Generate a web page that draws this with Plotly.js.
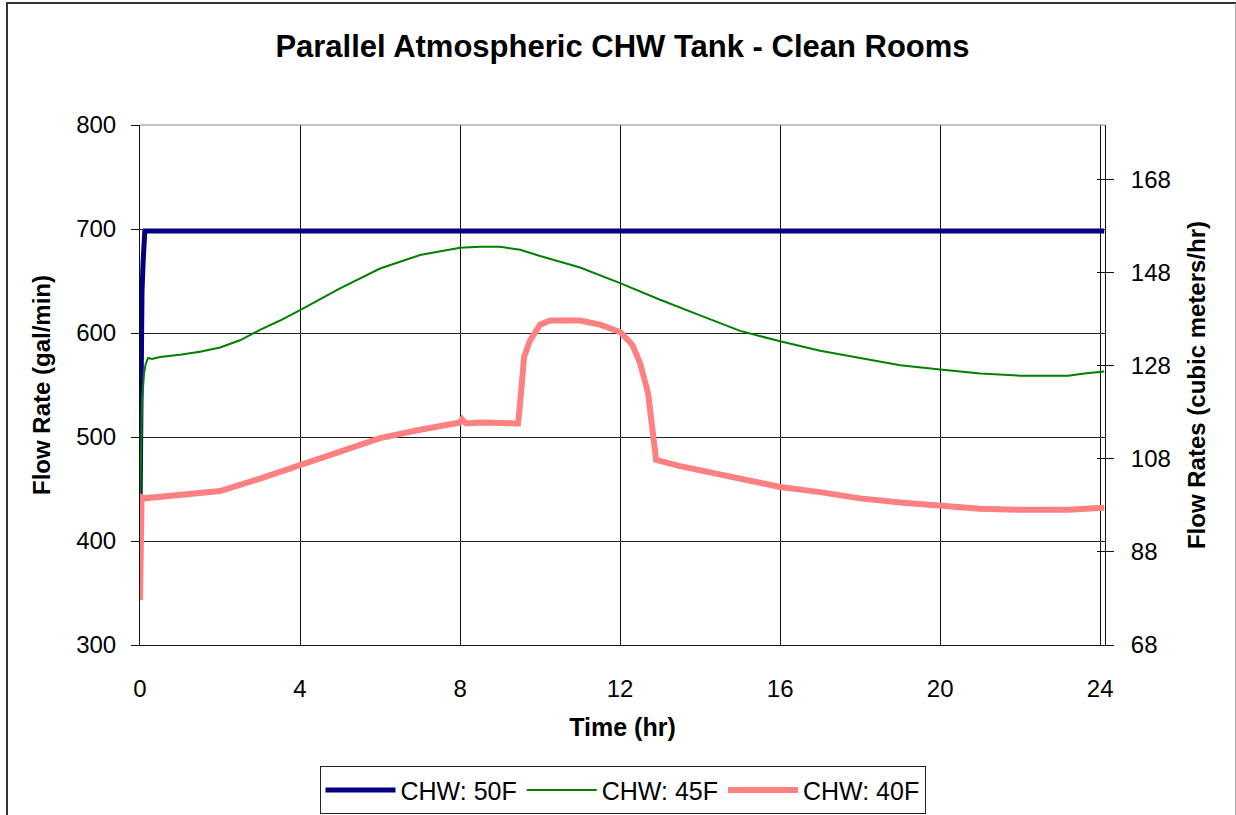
<!DOCTYPE html>
<html>
<head>
<meta charset="utf-8">
<script src="https://cdn.plot.ly/plotly-3.0.1.min.js"></script>
<style>
  html, body { margin: 0; padding: 0; background: #fff; overflow: hidden; }
  #chart { position: absolute; left: 0; top: 0; width: 1236px; height: 815px; }
  #frame { position: absolute; left: 6px; top: 2px; width: 1227px; height: 840px;
           border: 2px solid #333; border-right-color: #aaa; pointer-events: none; }
</style>
</head>
<body>
<div id="chart"></div>
<div id="frame"></div>
<script>
// ---- data ----
const seriesNames = ["CHW: 50F", "CHW: 45F", "CHW: 40F"];

const time50 = [0, 0.01, 0.02, 0.05, 0.08, 0.1, 0.12, 24.1];
const flow50 = [427, 500, 600, 640, 670, 690, 698, 698];

const time45 = [0, 0.03, 0.05, 0.08, 0.1, 0.14, 0.2, 0.3, 0.5, 1, 1.5, 2, 2.5, 3, 3.5, 4, 5, 6, 7, 8, 8.5, 9, 9.5,
                10, 11, 12, 13, 14, 15, 16, 17, 18, 19, 20, 21, 22, 23.2, 23.6, 24.1];
const flow45 = [427, 480, 535, 550, 561, 570, 576, 575, 577, 579, 582, 586, 593, 603, 612, 622, 643, 662, 675, 682, 683, 683, 680,
                674, 663, 648, 632, 617, 602, 592, 583, 576, 569, 565, 561, 559, 559, 561, 563];

const time40 = [0, 0.02, 0.04, 0.1, 1, 2, 3, 4, 5, 6, 7, 8, 8.05, 8.15, 8.5, 9, 9.45, 9.5, 9.55, 9.6, 9.75, 10, 10.25,
                11, 11.5, 12, 12.3, 12.5, 12.7, 12.8, 12.9, 13.5, 14, 15, 16, 17, 18, 19, 20, 21, 22, 23.2, 24.1];
const flow40 = [343, 400, 442, 441, 444, 448, 460, 473, 486, 499, 507, 514, 517, 513, 514, 513, 513, 532, 560, 577, 593, 608, 612,
                612, 608, 601, 589, 571, 542, 507, 478, 472, 468, 459, 452, 447, 441, 437, 434, 431, 430, 430, 432];

const xTicks = [0, 4, 8, 12, 16, 20, 24];
const yTicks = [300, 400, 500, 600, 700, 800];
const y2Ticks = [68, 88, 108, 128, 148, 168];

const FONT = "Liberation Sans, Arial, sans-serif";

const traces = [
  { x: time50, y: flow50, name: seriesNames[0], mode: "lines", line: { color: "#000080", width: 5 } },
  { x: time45, y: flow45, name: seriesNames[1], mode: "lines", line: { color: "#008000", width: 2 } },
  { x: time40, y: flow40, name: seriesNames[2], mode: "lines", line: { color: "#ff8080", width: 6 } },
  // empty traces so that the secondary (cubic meters/hr) axis is drawn
  { x: [], y: [], yaxis: "y2", mode: "lines", showlegend: false, hoverinfo: "skip" },
  { x: [], y: [], yaxis: "y3", mode: "lines", showlegend: false, hoverinfo: "skip" }
];

const layout = {
  width: 1236, height: 815,
  margin: { l: 140, r: 131, t: 125, b: 170, autoexpand: false },
  paper_bgcolor: "#fff", plot_bgcolor: "#fff",
  font: { family: FONT, color: "#000", size: 24 },
  showlegend: true,
  title: { text: "<b>Parallel Atmospheric CHW Tank - Clean Rooms</b>", font: { size: 31, family: FONT },
           x: 0.5, xref: "paper", xanchor: "center", y: 1 - 46 / 815, yanchor: "middle" },
  xaxis: {
    range: [0, 24.12], tickvals: xTicks, ticktext: xTicks.map(String),
    showgrid: true, gridcolor: "#111", gridwidth: 1, zeroline: false,
    showline: true, linecolor: "#111", linewidth: 1, mirror: false,
    ticks: "", ticklabelstandoff: 22, tickfont: { size: 24 },
    title: { text: "<b>Time (hr)</b>", font: { size: 25 }, standoff: 17 }
  },
  yaxis: {
    range: [300, 800], tickvals: yTicks, ticktext: yTicks.map(String),
    showgrid: true, gridcolor: "#222", gridwidth: 1, zeroline: false,
    showline: true, linecolor: "#111", linewidth: 1,
    ticks: "outside", ticklen: 8, tickcolor: "#111", ticklabelstandoff: 10, tickfont: { size: 24 },
    title: { text: "<b>Flow Rate (gal/min)</b>", font: { size: 24 }, standoff: 18 }
  },
  yaxis2: {
    overlaying: "y", side: "right", anchor: "x",
    range: [68, 179.8], tickvals: y2Ticks, ticktext: y2Ticks.map(String),
    showgrid: false, zeroline: false,
    showline: true, linecolor: "#111", linewidth: 1,
    ticks: "outside", ticklen: 8, tickcolor: "#111", ticklabelstandoff: 12, tickfont: { size: 24 },
    title: { text: "<b>Flow Rates (cubic meters/hr)</b>", font: { size: 24 }, standoff: 18 }
  },
  yaxis3: {
    overlaying: "y", side: "right", anchor: "x",
    range: [68, 179.8], tickvals: y2Ticks, showticklabels: false,
    showgrid: false, zeroline: false, showline: false,
    ticks: "inside", ticklen: 8, tickcolor: "#111"
  },
  shapes: [
    { type: "line", xref: "paper", yref: "paper", x0: 0, x1: 1, y0: 1, y1: 1, line: { color: "#888", width: 1 } }
  ],
  legend: {
    orientation: "h", x: 0.5, xanchor: "center", y: -0.233, yanchor: "top",
    bordercolor: "#222", borderwidth: 1, bgcolor: "#fff",
    font: { size: 25, family: FONT }, itemwidth: 70, tracegroupgap: 0
  }
};

Plotly.newPlot("chart", traces, layout, { staticPlot: true, displayModeBar: false });
</script>
</body>
</html>
